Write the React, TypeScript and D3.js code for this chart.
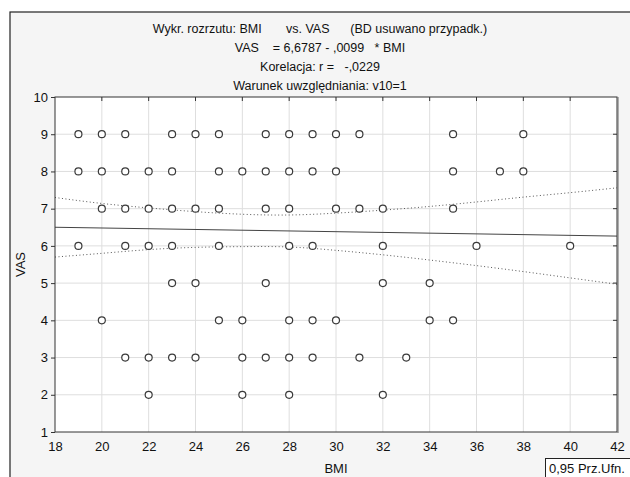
import React, { useEffect, useRef } from 'react';
import * as d3 from 'd3';

// scatter points, grouped by VAS level (BMI values)
const vasLevels = [9, 8, 7, 6, 5, 4, 3, 2];
const bmiAtVas9 = [19, 20, 21, 23, 24, 25, 27, 28, 29, 30, 31, 35, 38];
const bmiAtVas8 = [19, 20, 21, 22, 23, 25, 26, 27, 28, 29, 30, 35, 37, 38];
const bmiAtVas7 = [20, 21, 22, 23, 24, 25, 27, 28, 30, 31, 32, 35];
const bmiAtVas6 = [19, 21, 22, 23, 25, 28, 29, 32, 36, 40];
const bmiAtVas5 = [23, 24, 27, 32, 34];
const bmiAtVas4 = [20, 25, 26, 28, 29, 30, 34, 35];
const bmiAtVas3 = [21, 22, 23, 24, 26, 27, 28, 29, 31, 33];
const bmiAtVas2 = [22, 26, 28, 32];
const bmiByLevel = [bmiAtVas9, bmiAtVas8, bmiAtVas7, bmiAtVas6, bmiAtVas5, bmiAtVas4, bmiAtVas3, bmiAtVas2];

// regression from the title
const intercept = 6.6787;
const slope = -0.0099;
const lineX = [18, 42];

// 0,95 confidence band
const bandX = [18, 20, 22, 24, 26, 28, 30, 32, 34, 36, 38, 40, 42];
const bandUpper = [7.30, 7.14, 7.02, 6.92, 6.85, 6.83, 6.88, 6.96, 7.06, 7.18, 7.31, 7.43, 7.56];
const bandLower = [5.70, 5.80, 5.90, 5.96, 5.98, 5.97, 5.88, 5.76, 5.62, 5.47, 5.31, 5.14, 4.97];

const xTicks = [18, 20, 22, 24, 26, 28, 30, 32, 34, 36, 38, 40, 42];
const yTicks = [1, 2, 3, 4, 5, 6, 7, 8, 9, 10];

const titleLines = [
  'Wykr. rozrzutu: BMI       vs. VAS      (BD usuwano przypadk.)',
  'VAS    = 6,6787 - ,0099   * BMI',
  'Korelacja: r =   -,0229',
  'Warunek uwzględniania: v10=1',
];

const App = () => {
  const svgRef = useRef(null);
  const width = 630;
  const height = 477;
  const margin = { top: 97, right: 13, bottom: 45, left: 55 };

  useEffect(() => {
    const svg = d3.select(svgRef.current);
    svg.selectAll('*').remove();

    const font = 'Liberation Sans, Arial, sans-serif';
    const plotW = width - margin.left - margin.right;
    const plotH = height - margin.top - margin.bottom;

    // outer frame
    svg.append('rect').attr('width', width).attr('height', height).attr('fill', '#fff');
    svg.append('rect')
      .attr('x', 10).attr('y', 12)
      .attr('width', width).attr('height', height)
      .attr('fill', '#f5f5f5')
      .attr('stroke', '#222').attr('stroke-width', 1.2);

    // title
    titleLines.forEach((t, i) => {
      svg.append('text')
        .attr('x', 320)
        .attr('y', 33 + i * 19)
        .attr('text-anchor', 'middle')
        .style('font-family', font)
        .style('font-size', '12.5px')
        .style('white-space', 'pre')
        .attr('fill', '#111')
        .text(t);
    });

    const x = d3.scaleLinear().domain([18, 42]).range([0, plotW]);
    const y = d3.scaleLinear().domain([1, 10]).range([plotH, 0]);

    const g = svg.append('g').attr('transform', `translate(${margin.left}, ${margin.top})`);

    g.append('rect').attr('width', plotW).attr('height', plotH).attr('fill', '#fff');

    // grid
    g.selectAll('.vgrid').data(xTicks.slice(1, -1)).enter().append('line')
      .attr('x1', d => x(d)).attr('x2', d => x(d))
      .attr('y1', 0).attr('y2', plotH)
      .attr('stroke', '#dedede').attr('stroke-width', 1);
    g.selectAll('.hgrid').data(yTicks.slice(1, -1)).enter().append('line')
      .attr('y1', d => y(d)).attr('y2', d => y(d))
      .attr('x1', 0).attr('x2', plotW)
      .attr('stroke', '#dedede').attr('stroke-width', 1);

    // inner ticks on top and right
    g.selectAll('.tt').data(xTicks.slice(1, -1)).enter().append('line')
      .attr('x1', d => x(d)).attr('x2', d => x(d))
      .attr('y1', 0).attr('y2', 4)
      .attr('stroke', '#333');
    g.selectAll('.rt').data(yTicks.slice(1, -1)).enter().append('line')
      .attr('y1', d => y(d)).attr('y2', d => y(d))
      .attr('x1', plotW - 4).attr('x2', plotW)
      .attr('stroke', '#333');

    // confidence band
    const bandLine = d3.line().x(d => x(d[0])).y(d => y(d[1])).curve(d3.curveNatural);
    [bandUpper, bandLower].forEach(arr => {
      g.append('path')
        .attr('d', bandLine(bandX.map((b, i) => [b, arr[i]])))
        .attr('fill', 'none')
        .attr('stroke', '#555')
        .attr('stroke-width', 1)
        .attr('stroke-dasharray', '1,2.5');
    });

    // regression line
    g.append('line')
      .attr('x1', x(lineX[0])).attr('y1', y(intercept + slope * lineX[0]))
      .attr('x2', x(lineX[1])).attr('y2', y(intercept + slope * lineX[1]))
      .attr('stroke', '#444').attr('stroke-width', 1);

    // points
    vasLevels.forEach((v, i) => {
      bmiByLevel[i].forEach(b => {
        g.append('circle')
          .attr('cx', x(b)).attr('cy', y(v)).attr('r', 3.5)
          .attr('fill', '#fff')
          .attr('stroke', '#3a3a3a')
          .attr('stroke-width', 1.2);
      });
    });

    // border
    g.append('rect').attr('width', plotW).attr('height', plotH)
      .attr('fill', 'none').attr('stroke', '#333').attr('stroke-width', 1);
    g.append('line').attr('x1', plotW + 1).attr('x2', plotW + 1).attr('y1', 0).attr('y2', plotH + 1)
      .attr('stroke', '#666').attr('stroke-width', 1);

    // left axis
    const yAxis = d3.axisLeft(y).tickValues(yTicks).tickSize(4).tickPadding(3).tickFormat(d3.format('d'));
    const ya = g.append('g').call(yAxis);
    ya.select('.domain').remove();
    ya.selectAll('line').attr('stroke', '#333');
    ya.selectAll('text').style('font-family', font).style('font-size', '13px').attr('fill', '#111');

    // bottom axis
    const xAxis = d3.axisBottom(x).tickValues(xTicks).tickSize(0).tickPadding(10).tickFormat(d3.format('d'));
    const xa = g.append('g').attr('transform', `translate(0, ${plotH})`).call(xAxis);
    xa.select('.domain').remove();
    xa.selectAll('text').style('font-family', font).style('font-size', '13px').attr('fill', '#111');

    // axis titles
    svg.append('text')
      .attr('x', margin.left + plotW / 2).attr('y', 473)
      .attr('text-anchor', 'middle')
      .style('font-family', font).style('font-size', '13px')
      .attr('fill', '#111')
      .text('BMI');
    svg.append('text')
      .attr('transform', `translate(25, ${margin.top + plotH / 2}) rotate(-90)`)
      .attr('text-anchor', 'middle')
      .style('font-family', font).style('font-size', '13px')
      .attr('fill', '#111')
      .text('VAS');

    // legend box
    svg.append('rect')
      .attr('x', 545.5).attr('y', 458.5).attr('width', 90).attr('height', 30)
      .attr('fill', '#fff').attr('stroke', '#222').attr('stroke-width', 1);
    svg.append('text')
      .attr('x', 549).attr('y', 473)
      .style('font-family', font).style('font-size', '13px')
      .attr('fill', '#111')
      .text('0,95 Prz.Ufn.');
  }, []);

  return (
    <svg ref={svgRef} width={width} height={height}
      style={{ position: 'absolute', left: 0, top: 0, display: 'block' }} />
  );
};

export default App;
